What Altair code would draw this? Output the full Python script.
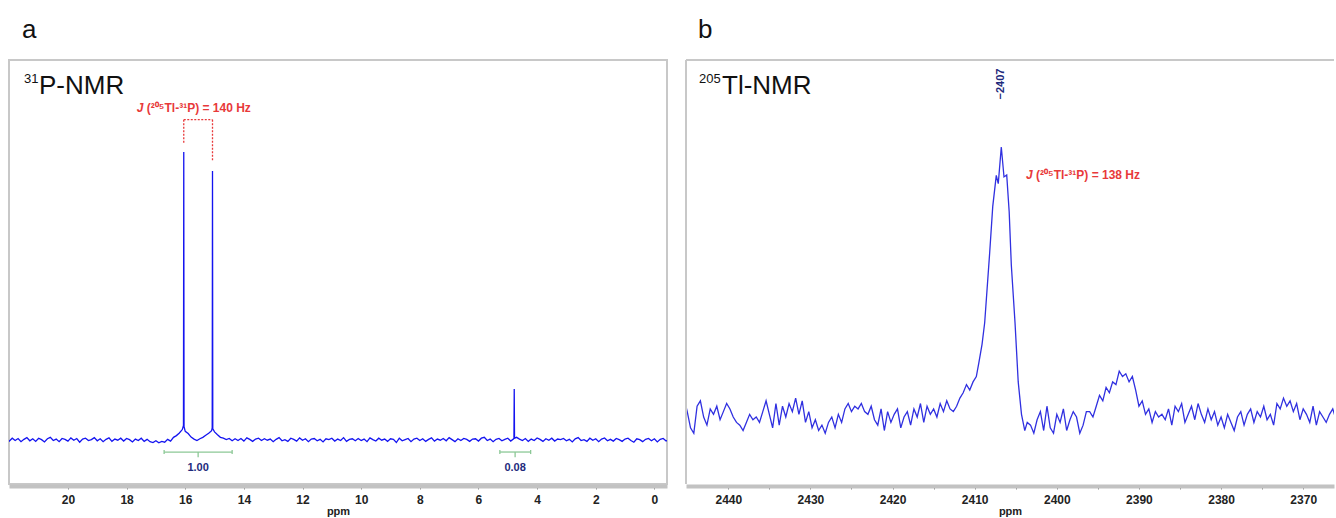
import altair as alt
import pandas as pd

FONT = "Liberation Sans"

# ---------------- Panel a : 31P-NMR ----------------
a_noise_start = 22.1      # ppm of first noise sample
a_noise_step = 0.1
a_noise = [
    0.3, -0.4, 0.6, -0.2, 0.5, -0.6, 0.2, 0.8, -0.3, 0.4,
    -0.5, 0.6, 0.1, -0.7, 0.4, 0.9, -0.2, 0.3, -0.6, 0.5,
    0.2, -0.4, 0.7, -0.1, 0.5, -0.8, 0.3, 0.6, -0.2, 0.1,
    0.8, -0.3, 0.4, -0.6, 0.2, 0.7, -0.5, 0.3, -0.1, 0.6,
    -0.4, 0.5, 0.1, -0.7, 0.3, -0.2, 0.6, -0.5, 0.2, -0.6,
    -0.9, -0.3, -1.0, -0.5, -0.8, 0.2, -0.4, 0.9, 1.5, 2.4,
    3.6, 3.0, 2.2, 1.0, 0.3, -0.2, 0.4, 0.9, 1.6, 2.3,
    3.2, 2.8, 1.8, 0.9, 0.6, 0.1, 0.5, -0.3, 0.4, -0.2,
    0.5, -0.4, 0.7, 0.2, -0.5, 0.3, 0.6, -0.2, 0.4, -0.1,
    0.3, -0.6, 0.2, 0.8, -0.3, 0.1, -0.5, 0.6, 0.2, -0.4,
    0.7, -0.1, 0.4, -0.6, 0.3, 0.5, -0.3, 0.2, -0.7, 0.4,
    0.1, 0.6, -0.4, 0.3, -0.2, 0.8, -0.5, 0.2, 0.4, -0.3,
    0.5, -0.2, 0.3, -0.6, 0.7, 0.1, -0.4, 0.6, -0.1, 0.3,
    -0.5, 0.4, 0.2, -0.9, 0.6, -0.3, 0.1, 0.5, -0.6, 0.3,
    0.6, -0.2, 0.4, -0.5, 0.2, 0.7, -0.4, 0.3, -0.1, 0.5,
    -0.3, 0.8, 0.1, -0.6, 0.4, -0.2, 0.5, 0.2, -0.5, 0.3,
    0.4, -0.4, 0.6, 0.9, -0.2, 0.3, -0.6, 0.2, 0.5, -0.3,
    0.2, 0.6, -0.4, 0.4, 0.9, 0.3, -0.2, 0.5, -0.5, 0.3,
    -0.2, 0.7, 0.2, -0.5, 0.4, -0.1, 0.6, -0.4, 0.3, 0.1,
    0.5, -0.3, 0.2, -0.7, 0.4, 0.8, -0.2, 0.1, -0.5, 0.6,
    -0.1, 0.4, -0.6, 0.3, 0.7, -0.3, 0.2, -0.4, 0.5, 0.1,
    -0.5, 0.3, 0.6, -0.2, -0.8, 0.4, 0.1, -0.6, 0.2, 0.5,
    -0.3, 0.4, -0.7, 0.2, 0.5, -0.4, 0.1,
]
a_peak_ppm = [16.06, 16.05, 16.04, 15.08, 15.07, 15.06, 4.79, 4.78, 4.77]
a_peak_int = [5.0, 100.0, 4.6, 4.2, 93.4, 3.9, 0.8, 17.7, 0.6]

a_ticks = list(range(0, 22))

# J bracket (dotted red)
a_br_x = [16.05, 16.05, 15.07]
a_br_x2 = [15.07, 16.05, 15.07]
a_br_y = [111.2, 111.2, 111.2]
a_br_y2 = [111.2, 103.2, 96.9]
a_j_ppm, a_j_int = 17.65, 115.4
a_j_text = "(²⁰⁵Tl-³¹P) = 140 Hz"

# integrals
a_int_x = [16.72, 15.56, 16.72, 14.40, 5.27, 4.75, 5.27, 4.22]
a_int_x2 = [14.40, 15.56, 16.72, 14.40, 4.22, 4.75, 5.27, 4.22]
a_int_y = [-4.2, -4.2, -3.5, -3.5, -4.2, -4.2, -3.5, -3.5]
a_int_y2 = [-4.2, -6.0, -4.9, -4.9, -4.2, -6.0, -4.9, -4.9]
a_int_lab = ["1.00", "0.08"]
a_int_lab_ppm = [15.56, 4.75]
a_int_lab_y = -9.6

# ---------------- Panel b : 205Tl-NMR ----------------
b_step = 0.4
b_left_end = 2412.2
b_left_noise = [
    -1, -2, -3, 1, 5, 7, 2, -4, -6, 4,
    6, 0, -3, 3, 1, 4, -1, 2, 5, 3,
    0, -2, -3, -5, -2, 1, -1, 0, -2, 2,
    6, 1, -4, 5, -3, 4, 0, 5, 2, 7,
    1, 6, -2, 2, -4, -1, -5, -3, -6, -2,
    0, -4, 1, -2, 3, 5, 2, 4, 3, 5,
    2, 1, 4, -1, -3, 3, -5, 2, -2, 1,
    3, -4, 0, 2, -3, 3, 0, 5, -2, 4,
    1, 3, 0, 5, 2, 6, 3, 2, 4,
]
b_peak_ppm = [2411.8, 2411.4, 2411.0, 2410.6, 2410.2, 2409.8, 2409.5, 2409.1,
              2408.78, 2408.17, 2407.8, 2407.37, 2407.13, 2406.76, 2406.43,
              2406.10, 2405.8, 2405.54, 2405.09, 2404.7, 2404.3, 2403.9, 2403.6]
b_peak_int = [7, 9, 12, 10, 13, 15, 20, 27, 35, 61, 78, 89.5, 86.4, 100, 88.9,
              89.6, 76, 56.3, 35, 13, 1, -5, -2]
b_right_start = 2403.2
b_right_noise = [
    -3, -6, -1, 2, -5, 4, -4, -6, 1, -2,
    3, -5, -1, 2, 0, -6, -3, 2, 2, 0,
    4, 8, 6, 11, 9, 13, 12, 17, 15, 16,
    13, 15, 10, 4, 6, 1, 3, -2, 2, 0,
    1, -1, 3, -3, 4, 2, 5, -2, 1, 4,
    -1, 5, 1, -2, 3, -1, 2, -3, 0, -4,
    1, -2, -5, 0, 2, -3, 1, 3, -2, 2,
    0, 4, -1, 1, -3, 5, 3, 7, 4, 6,
    2, 5, -1, 3, 1, -2, 4, -3, 2, 0,
    -2, 1, 3, -1, 2,
]
b_ticks = list(range(2370, 2445, 5))
b_peak_label = "−2407"
b_peak_label_ppm, b_peak_label_int = 2406.76, 123.3
b_j_ppm, b_j_int = 2403.75, 89.6
b_j_text = "(²⁰⁵Tl-³¹P) = 138 Hz"

# ---------------- geometry ----------------
AW, AH = 658, 424
BW, BH = 648, 424
A_DOM = [-0.43, 22.01]
B_DOM = [2366.25, 2445.15]
A_Y = [-15.3, 131.9]
B_Y = [-24.8, 132.2]

LINE_A = "#1414f0"
LINE_B = "#3030e0"
RED = "#e8393a"
NAVY = "#1e2a7c"
GREEN = "#8cc896"
FRAME = "#c8c8c8"

# ---------------- dataframes ----------------
a_df = pd.DataFrame({
    "ppm": [round(a_noise_start - a_noise_step * i, 3) for i in range(len(a_noise))] + a_peak_ppm,
    "int": a_noise + a_peak_int,
})
nL = len(b_left_noise)
b_df = pd.DataFrame({
    "ppm": [round(b_left_end + b_step * (nL - 1 - i), 3) for i in range(nL)]
           + b_peak_ppm
           + [round(b_right_start - b_step * i, 3) for i in range(len(b_right_noise))],
    "int": b_left_noise + b_peak_int + b_right_noise,
})


def x_axis(values, even_mod):
    return alt.Axis(
        values=values, format="d",
        labelExpr=f"datum.value % {even_mod} === 0 ? datum.label : ''",
        grid=False, offset=2,
        domainColor="#c2c2c2", domainWidth=4,
        tickColor="#8a8a8a", tickSize=3, tickWidth=1,
        labelFont=FONT, labelFontWeight="bold", labelFontSize=12, labelColor="#222222",
        labelPadding=5, labelFlush=False,
        title="ppm", titleFont=FONT, titleFontWeight="bold", titleFontSize=11,
        titleColor="#222222", titlePadding=0,
    )


def one(**kw):
    return pd.DataFrame({k: [v] for k, v in kw.items()}) if kw else pd.DataFrame({"k": [0]})


# ---------- panel a ----------
ax = alt.X("ppm:Q", scale=alt.Scale(domain=A_DOM, reverse=True, nice=False, zero=False),
           axis=x_axis(a_ticks, 2))
ay = alt.Y("int:Q", scale=alt.Scale(domain=A_Y, nice=False, zero=False), axis=None)

a_line = alt.Chart(a_df).mark_line(color=LINE_A, strokeWidth=1.3, clip=True).encode(x=ax, y=ay)

a_br = alt.Chart(pd.DataFrame({"ppm": a_br_x, "ppm2": a_br_x2, "int": a_br_y, "int2": a_br_y2})).mark_rule(
    color=RED, strokeDash=[2, 1.5], strokeWidth=1.3).encode(
    x=alt.X("ppm:Q", scale=alt.Scale(domain=A_DOM, reverse=True, nice=False, zero=False)),
    x2="ppm2:Q", y=alt.Y("int:Q", scale=alt.Scale(domain=A_Y, nice=False, zero=False)), y2="int2:Q")

a_jJ = alt.Chart(one(ppm=a_j_ppm, int=a_j_int, t="J")).mark_text(
    font=FONT, fontSize=12, fontWeight="bold", fontStyle="italic", color=RED, align="left",
    baseline="middle").encode(x="ppm:Q", y="int:Q", text="t:N")
a_jT = alt.Chart(one(ppm=a_j_ppm, int=a_j_int, t=a_j_text)).mark_text(
    font=FONT, fontSize=12, fontWeight="bold", color=RED, align="left", baseline="middle", dx=10
).encode(x="ppm:Q", y="int:Q", text="t:N")

a_int = alt.Chart(pd.DataFrame({"ppm": a_int_x, "ppm2": a_int_x2, "int": a_int_y, "int2": a_int_y2})).mark_rule(
    color=GREEN, strokeWidth=1.3).encode(x="ppm:Q", x2="ppm2:Q", y="int:Q", y2="int2:Q")
a_int_t = alt.Chart(pd.DataFrame({"ppm": a_int_lab_ppm, "int": [a_int_lab_y] * 2, "t": a_int_lab})).mark_text(
    font=FONT, fontSize=11, fontWeight="bold", color=NAVY, baseline="middle").encode(
    x="ppm:Q", y="int:Q", text="t:N")

a_letter = alt.Chart(one(t="a")).mark_text(font=FONT, fontSize=26, color="#111111", align="left",
                                           baseline="alphabetic").encode(
    x=alt.value(13), y=alt.value(-22), text="t:N")
a_sup = alt.Chart(one(t="31")).mark_text(font=FONT, fontSize=13, color="#111111", align="left",
                                         baseline="top").encode(x=alt.value(15), y=alt.value(13), text="t:N")
a_nm = alt.Chart(one(t="P-NMR")).mark_text(font=FONT, fontSize=26, color="#111111", align="left",
                                           baseline="alphabetic").encode(x=alt.value(30), y=alt.value(34), text="t:N")
a_anchor = alt.Chart(one()).mark_rule(color="white", strokeWidth=0.5).encode(
    x=alt.value(-7), x2=alt.value(-6), y=alt.value(-58))

panel_a = alt.layer(a_line, a_br, a_jJ, a_jT, a_int, a_int_t, a_letter, a_sup, a_nm, a_anchor).properties(
    width=AW, height=AH, view=alt.ViewBackground(stroke=FRAME, strokeWidth=2))

# ---------- panel b ----------
bx = alt.X("ppm:Q", scale=alt.Scale(domain=B_DOM, reverse=True, nice=False, zero=False),
           axis=x_axis(b_ticks, 10))
by = alt.Y("int:Q", scale=alt.Scale(domain=B_Y, nice=False, zero=False), axis=None)

b_line = alt.Chart(b_df).mark_line(color=LINE_B, strokeWidth=1.3, clip=True).encode(x=bx, y=by)

b_lab = alt.Chart(one(ppm=b_peak_label_ppm, int=b_peak_label_int, t=b_peak_label)).mark_text(
    font=FONT, fontSize=11, fontWeight="bold", color=NAVY, angle=270, align="center", baseline="middle").encode(
    x="ppm:Q", y="int:Q", text="t:N")
b_jJ = alt.Chart(one(ppm=b_j_ppm, int=b_j_int, t="J")).mark_text(
    font=FONT, fontSize=12, fontWeight="bold", fontStyle="italic", color=RED, align="left",
    baseline="middle").encode(x="ppm:Q", y="int:Q", text="t:N")
b_jT = alt.Chart(one(ppm=b_j_ppm, int=b_j_int, t=b_j_text)).mark_text(
    font=FONT, fontSize=12, fontWeight="bold", color=RED, align="left", baseline="middle", dx=10
).encode(x="ppm:Q", y="int:Q", text="t:N")

b_letter = alt.Chart(one(t="b")).mark_text(font=FONT, fontSize=26, color="#111111", align="left",
                                           baseline="alphabetic").encode(
    x=alt.value(12), y=alt.value(-22), text="t:N")
b_sup = alt.Chart(one(t="205")).mark_text(font=FONT, fontSize=13, color="#111111", align="left",
                                          baseline="top").encode(x=alt.value(13), y=alt.value(13), text="t:N")
b_nm = alt.Chart(one(t="Tl-NMR")).mark_text(font=FONT, fontSize=26, color="#111111", align="left",
                                            baseline="alphabetic").encode(x=alt.value(36), y=alt.value(34), text="t:N")
b_left = alt.Chart(one()).mark_rule(color=FRAME, strokeWidth=2).encode(
    x=alt.value(0), y=alt.value(0), y2=alt.value(BH))
b_top = alt.Chart(one()).mark_rule(color=FRAME, strokeWidth=2).encode(
    x=alt.value(0), x2=alt.value(BW), y=alt.value(0))
b_anchor = alt.Chart(one()).mark_rule(color="white", strokeWidth=0.5).encode(
    x=alt.value(0), x2=alt.value(1), y=alt.value(-58))

panel_b = alt.layer(b_line, b_lab, b_jJ, b_jT, b_letter, b_sup, b_nm, b_left, b_top, b_anchor).properties(
    width=BW, height=BH)

chart = alt.hconcat(panel_a, panel_b, spacing=17).properties(
    padding=0, background="white"
).configure_view(stroke=None)

chart.save("out.html", embed_options={"renderer": "svg", "actions": False})
